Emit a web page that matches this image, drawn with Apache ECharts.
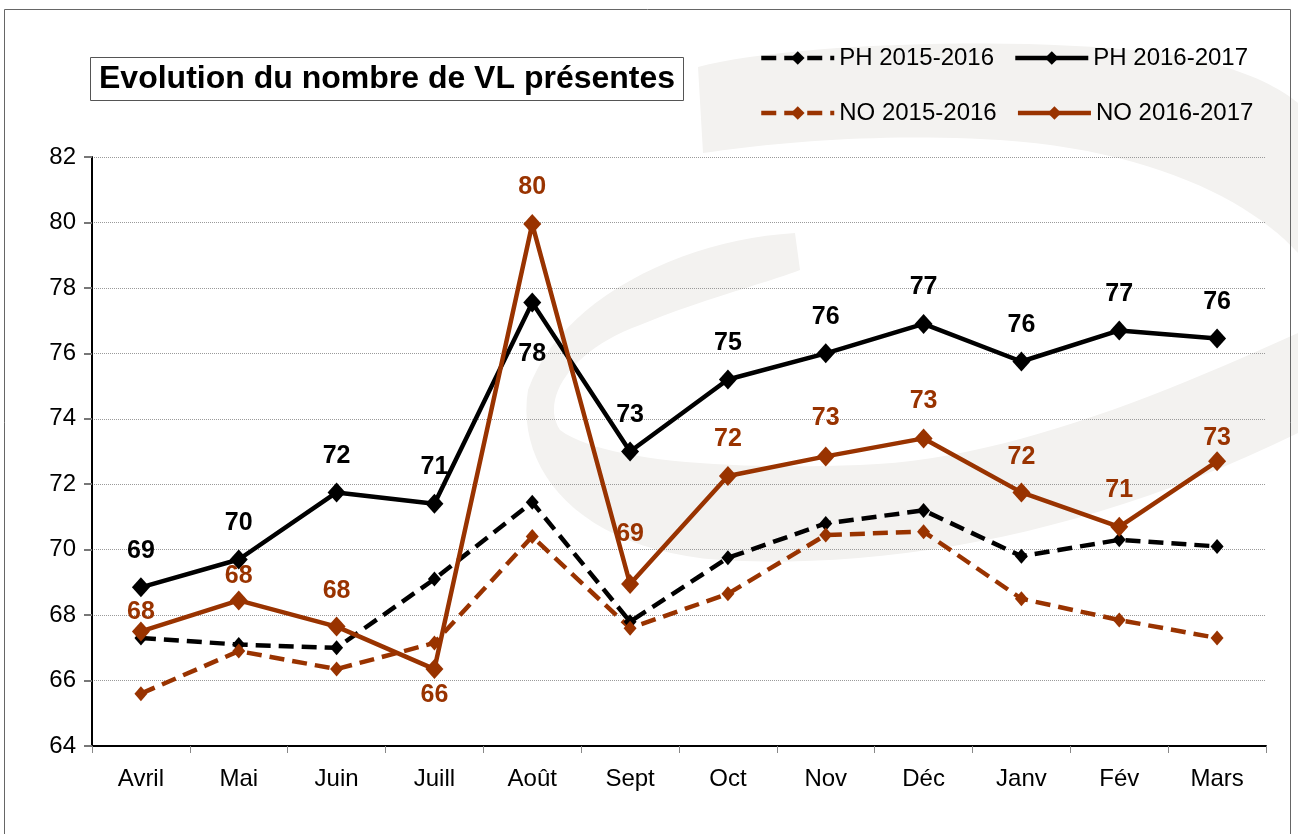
<!DOCTYPE html>
<html>
<head>
<meta charset="utf-8">
<title>Evolution du nombre de VL présentes</title>
<script src="https://cdn.jsdelivr.net/npm/echarts@6/dist/echarts.min.js"></script>
<style>
    html, body { margin: 0; padding: 0; background: #fff; }
    #vlChart { width: 1298px; height: 834px; }
</style>
</head>
<body>
<div id="vlChart"></div>
<script>
// mois (avril -> mars)
var months = ['Avril', 'Mai', 'Juin', 'Juill', 'Août', 'Sept', 'Oct', 'Nov', 'Déc', 'Janv', 'Fév', 'Mars'];

// nombre de VL présentes
var ph1516 = [67.3, 67.1, 67.0, 69.1, 71.45, 67.8, 69.75, 70.8, 71.2, 69.8, 70.3, 70.1];
var ph1617 = [68.85, 69.7, 71.75, 71.4, 77.55, 73.0, 75.2, 76.0, 76.9, 75.75, 76.7, 76.45];
var no1516 = [65.6, 66.9, 66.35, 67.15, 70.4, 67.6, 68.65, 70.45, 70.55, 68.5, 67.85, 67.3];
var no1617 = [67.5, 68.45, 67.65, 66.35, 79.95, 68.95, 72.25, 72.85, 73.4, 71.75, 70.7, 72.7];

// décalage vertical des étiquettes (px), comme placées à la main dans le classeur
var ph1617LabelDy = [0, 0, 0, 0, 88, 0, 0, 0, 0, 0, 0, 0];
var no1617LabelDy = [17, 12, 1, 63, 0, -13, 0, -2, -1, 1, 0, 13];

var BLACK = '#000000';
var BROWN = '#993300';
var WATERMARK = '#f3f2f0';
var FONT = '"Liberation Sans", Arial, sans-serif';

function withLabels(values, dy) {
    return values.map(function (v, i) {
        return { value: v, label: { offset: [0, dy[i]] } };
    });
}

// petit échantillonnage de courbes de Bézier pour le logo de fond
// segs : ['L',x,y] ou ['C',x1,y1,x2,y2,x,y]
function sampleShape(start, segs) {
    var pts = [start.slice()];
    var cur = start.slice();
    segs.forEach(function (s) {
        if (s[0] === 'L') {
            cur = [s[1], s[2]];
            pts.push(cur);
        } else {
            var p0 = cur, p1 = [s[1], s[2]], p2 = [s[3], s[4]], p3 = [s[5], s[6]];
            for (var k = 1; k <= 24; k++) {
                var t = k / 24, u = 1 - t;
                pts.push([
                    u * u * u * p0[0] + 3 * u * u * t * p1[0] + 3 * u * t * t * p2[0] + t * t * t * p3[0],
                    u * u * u * p0[1] + 3 * u * u * t * p1[1] + 3 * u * t * t * p2[1] + t * t * t * p3[1]
                ]);
            }
            cur = p3;
        }
    });
    return pts;
}

var logoTop = sampleShape([698, 67], [
    ['C', 780, 45, 1000, 35, 1150, 52],
    ['C', 1220, 60, 1270, 80, 1298, 103],
    ['L', 1298, 253],
    ['C', 1250, 200, 1150, 150, 1000, 140],
    ['C', 880, 133, 780, 142, 703, 153]
]);
var logoInner = sampleShape([795, 233], [
    ['C', 680, 240, 560, 300, 528, 390],
    ['C', 515, 470, 580, 550, 720, 560],
    ['C', 900, 570, 1100, 530, 1298, 433],
    ['L', 1298, 333],
    ['C', 1150, 400, 1000, 460, 860, 465],
    ['C', 720, 470, 600, 460, 560, 430],
    ['C', 540, 400, 570, 350, 640, 325],
    ['C', 700, 300, 760, 285, 800, 270]
]);

var echartObj = echarts.init(document.getElementById('vlChart'));

var option = {
    animation: false,
    backgroundColor: '#fff',
    textStyle: { fontFamily: FONT },
    title: {
        text: 'Evolution du nombre de VL présentes',
        left: 90,
        top: 57,
        padding: [5, 9, 5, 9],
        borderWidth: 1,
        borderColor: '#555',
        backgroundColor: '#fff',
        textStyle: { fontFamily: FONT, fontSize: 32, fontWeight: 'bold', color: '#000', lineHeight: 34 }
    },
    // fond : logo gris clair + cadre
    graphic: [
        {
            type: 'polygon', z: -10, silent: true,
            shape: { points: logoTop },
            style: { fill: WATERMARK }
        },
        {
            type: 'polygon', z: -10, silent: true,
            shape: { points: logoInner },
            style: { fill: WATERMARK }
        },
        {
            type: 'rect', z: 100, silent: true,
            shape: { x: 4.5, y: 9.5, width: 1286, height: 840 },
            style: { fill: 'none', stroke: '#666', lineWidth: 1 }
        }
    ],
    legend: [
        {
            data: ['PH 2015-2016', 'PH 2016-2017'],
            left: 754, top: 41,
            itemWidth: 73, itemHeight: 17, itemGap: 19,
            lineStyle: { width: 4.5 },
            textStyle: { fontFamily: FONT, fontSize: 24, color: '#000' }
        },
        {
            data: ['NO 2015-2016', 'NO 2016-2017'],
            left: 754, top: 96,
            itemWidth: 73, itemHeight: 17, itemGap: 19,
            lineStyle: { width: 4.5 },
            textStyle: { fontFamily: FONT, fontSize: 24, color: '#000' }
        }
    ],
    grid: {
        left: 92,
        right: 32,
        top: 157,
        bottom: 88
    },
    xAxis: {
        type: 'category',
        data: months,
        boundaryGap: true,
        axisLine: { lineStyle: { color: '#000', width: 2 } },
        axisTick: { show: true, length: 7, lineStyle: { color: '#888', width: 1 } },
        axisLabel: { fontSize: 24, color: '#000', margin: 21, fontFamily: FONT }
    },
    yAxis: {
        type: 'value',
        min: 64,
        max: 82,
        interval: 2,
        axisLine: { show: true, lineStyle: { color: '#000', width: 2 } },
        axisTick: { show: true, length: 8, lineStyle: { color: '#777', width: 2 } },
        axisLabel: { fontSize: 24, color: '#000', margin: 16, fontFamily: FONT },
        splitLine: { lineStyle: { color: '#9a9a9a', type: 'dotted', width: 1 } }
    },
    series: [
        {
            name: 'PH 2015-2016',
            type: 'line',
            data: ph1516,
            symbol: 'diamond',
            symbolSize: [13, 15],
            itemStyle: { color: BLACK },
            lineStyle: { color: BLACK, width: 4.5, type: [15, 8] }
        },
        {
            name: 'PH 2016-2017',
            type: 'line',
            data: withLabels(ph1617, ph1617LabelDy),
            symbol: 'diamond',
            symbolSize: [18, 20],
            itemStyle: { color: BLACK },
            lineStyle: { color: BLACK, width: 4.5 },
            label: {
                show: true, position: 'top', distance: 14,
                fontSize: 25, fontWeight: 'bold', color: BLACK, fontFamily: FONT,
                formatter: function (p) { return Math.round(p.value); }
            }
        },
        {
            name: 'NO 2015-2016',
            type: 'line',
            data: no1516,
            symbol: 'diamond',
            symbolSize: [13, 15],
            itemStyle: { color: BROWN },
            lineStyle: { color: BROWN, width: 4.5, type: [15, 8] }
        },
        {
            name: 'NO 2016-2017',
            type: 'line',
            data: withLabels(no1617, no1617LabelDy),
            symbol: 'diamond',
            symbolSize: [18, 20],
            itemStyle: { color: BROWN },
            lineStyle: { color: BROWN, width: 4.5 },
            label: {
                show: true, position: 'top', distance: 14,
                fontSize: 25, fontWeight: 'bold', color: BROWN, fontFamily: FONT,
                formatter: function (p) { return Math.round(p.value); }
            }
        }
    ]
};

echartObj.setOption(option);
window.addEventListener('resize', function () {
    echartObj.resize();
});
</script>
</body>
</html>
